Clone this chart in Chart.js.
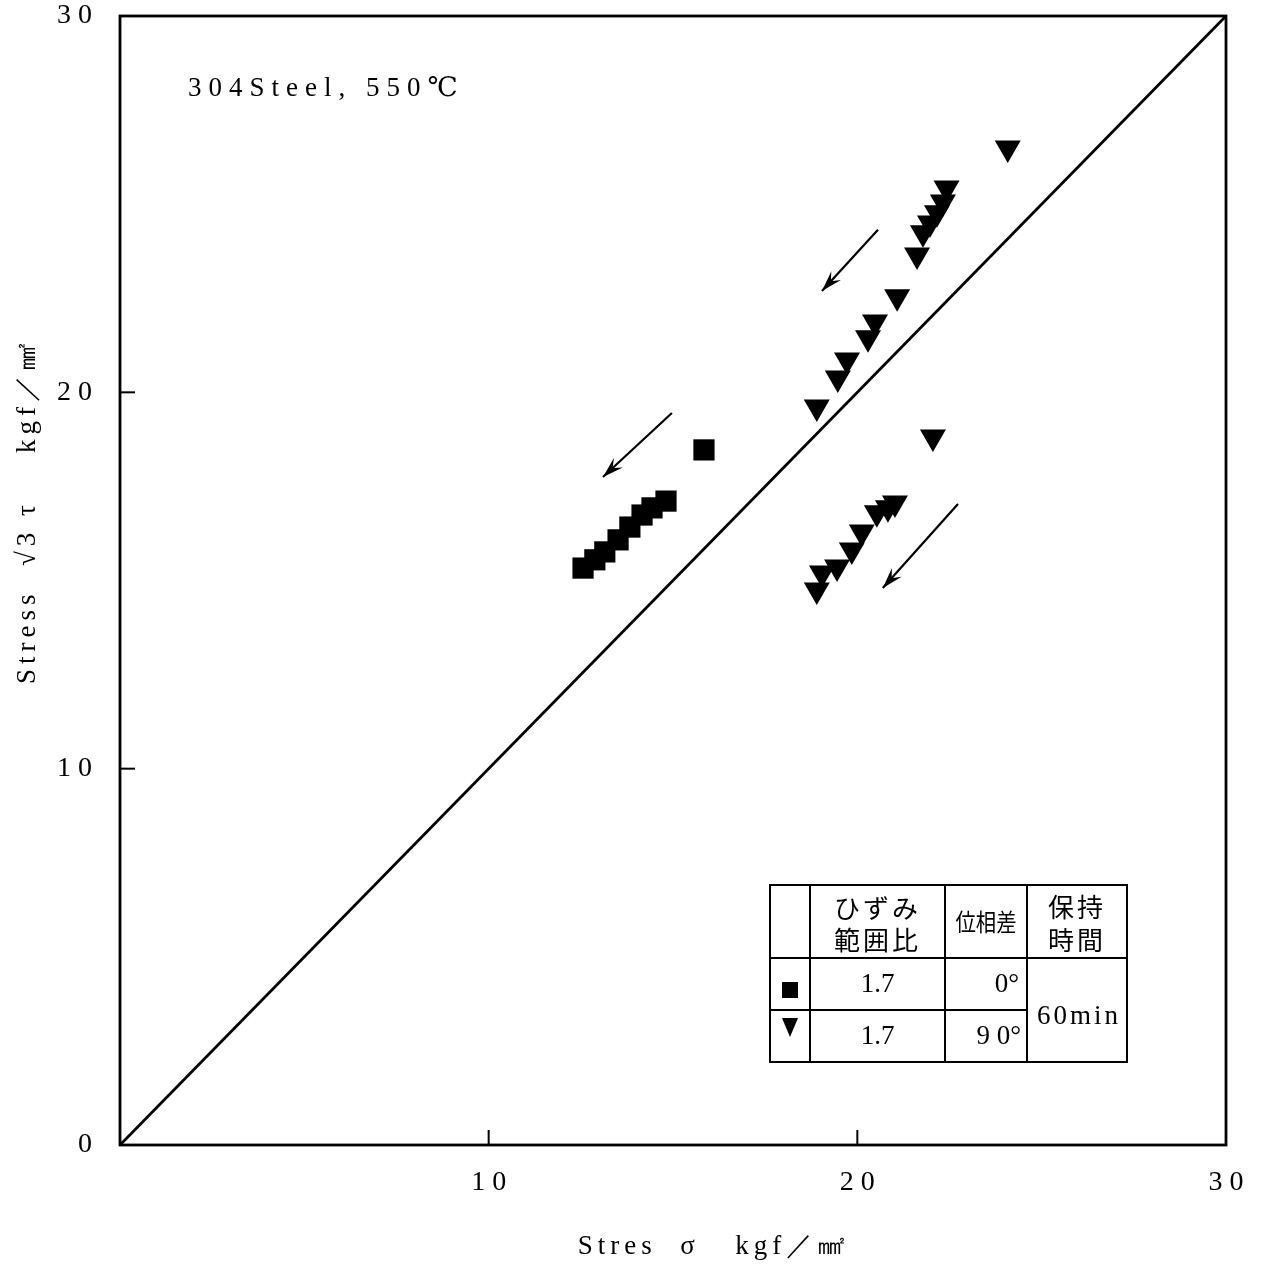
<!DOCTYPE html>
<html>
<head>
<meta charset="utf-8">
<script src="https://cdn.jsdelivr.net/npm/chart.js@4"></script>
<style>
  html, body { margin: 0; padding: 0; background: #fff; }
  #wrap { width: 1265px; height: 1266px; }
</style>
</head>
<body>
<div id="wrap"><canvas id="myChart" width="1265" height="1266"></canvas></div>
<script>
// values (kgf/mm2)
var squareX = [15.84, 14.81, 14.43, 14.16, 13.83, 13.51, 13.15, 12.88, 12.56];
var squareY = [18.47, 17.11, 16.93, 16.74, 16.42, 16.08, 15.76, 15.55, 15.33];

var triX = [24.08, 22.42, 22.32, 22.16, 21.97, 21.78, 21.62, 21.08, 20.48, 20.29, 19.72, 19.47, 18.90,
            22.05, 21.02, 20.83, 20.53, 20.12, 19.85, 19.45, 19.04, 18.90];
var triY = [26.49, 25.43, 25.06, 24.77, 24.50, 24.24, 23.65, 22.54, 21.87, 21.45, 20.86, 20.38, 19.61,
            18.81, 17.06, 16.93, 16.80, 16.29, 15.81, 15.36, 15.20, 14.75];

var diagX = [0, 30];
var diagY = [0, 30];

// arrows: start -> end
var arrowFromX = [14.97, 20.56, 22.73];
var arrowFromY = [19.45, 24.32, 17.03];
var arrowToX = [13.10, 19.04, 20.69];
var arrowToY = [17.75, 22.69, 14.80];

var xTicks = [10, 20, 30];
var yTicks = [0, 10, 20, 30];

var noteText = "304Steel, 550℃";
var xTitle = "Stres  σ   kgf／㎟";
var yTitle = "Stress  √3 τ    kgf／㎟";

var tableHead = [["ひずみ", "範囲比"], ["位相差"], ["保持", "時間"]];
var tableRatio = ["1.7", "1.7"];
var tablePhase = ["0°", "9 0°"];
var tableHold = "60min";

function spaced(v) {
  return String(v).split("").join(" ");
}

function pts(xs, ys) {
  return xs.map(function (x, i) { return { x: x, y: ys[i] }; });
}

var serif = "'Liberation Serif', 'DejaVu Serif', serif";
var cjk = "'Noto Sans CJK JP', sans-serif";

var decorPlugin = {
  id: "decor",
  afterDatasetsDraw: function (chart) {
    var ctx = chart.ctx;
    var xs = chart.scales.x;
    var ys = chart.scales.y;
    var a = chart.chartArea;
    ctx.save();

    // frame
    ctx.strokeStyle = "#000";
    ctx.lineWidth = 2.8;
    ctx.strokeRect(a.left, a.top, a.right - a.left, a.bottom - a.top);

    // inward ticks
    ctx.lineWidth = 2;
    xTicks.forEach(function (v) {
      var px = xs.getPixelForValue(v);
      ctx.beginPath();
      ctx.moveTo(px, a.bottom);
      ctx.lineTo(px, a.bottom - 15);
      ctx.stroke();
    });
    yTicks.forEach(function (v) {
      var py = ys.getPixelForValue(v);
      ctx.beginPath();
      ctx.moveTo(a.left, py);
      ctx.lineTo(a.left + 15, py);
      ctx.stroke();
    });

    // arrows
    ctx.lineWidth = 2.2;
    arrowFromX.forEach(function (x0, i) {
      var p0x = xs.getPixelForValue(x0), p0y = ys.getPixelForValue(arrowFromY[i]);
      var p1x = xs.getPixelForValue(arrowToX[i]), p1y = ys.getPixelForValue(arrowToY[i]);
      ctx.beginPath();
      ctx.moveTo(p0x, p0y);
      ctx.lineTo(p1x, p1y);
      ctx.stroke();
      var ang = Math.atan2(p1y - p0y, p1x - p0x);
      var len = 22;
      ctx.beginPath();
      ctx.moveTo(p1x, p1y);
      ctx.lineTo(p1x - len * Math.cos(ang - 0.3), p1y - len * Math.sin(ang - 0.3));
      ctx.lineTo(p1x - len * 0.6 * Math.cos(ang), p1y - len * 0.6 * Math.sin(ang));
      ctx.lineTo(p1x - len * Math.cos(ang + 0.3), p1y - len * Math.sin(ang + 0.3));
      ctx.closePath();
      ctx.fillStyle = "#000";
      ctx.fill();
    });

    // note
    ctx.fillStyle = "#000";
    ctx.font = "27px " + serif;
    ctx.letterSpacing = "7px";
    ctx.textAlign = "left";
    ctx.textBaseline = "middle";
    ctx.fillText(noteText, a.left + 68, a.top + 73);

    // axis titles
    ctx.font = "27px " + serif;
    ctx.letterSpacing = "5px";
    ctx.textAlign = "center";
    ctx.fillText(xTitle, a.left + 594, a.bottom + 102);
    ctx.save();
    ctx.translate(28, a.top + 495);
    ctx.rotate(-Math.PI / 2);
    ctx.fillText(yTitle, 0, 0);
    ctx.restore();
    ctx.letterSpacing = "0px";

    // legend table
    var L = a.right - 456, T = a.bottom - 260;
    var cols = [0, 40, 175, 257, 357];
    var rows = [0, 73, 125, 177];
    ctx.lineWidth = 2;
    ctx.strokeRect(L, T, cols[4], rows[3]);
    ctx.beginPath();
    for (var c = 1; c < 4; c++) {
      ctx.moveTo(L + cols[c], T);
      ctx.lineTo(L + cols[c], T + rows[3]);
    }
    ctx.moveTo(L, T + rows[1]);
    ctx.lineTo(L + cols[4], T + rows[1]);
    ctx.moveTo(L, T + rows[2]);
    ctx.lineTo(L + cols[3], T + rows[2]);
    ctx.stroke();

    ctx.textAlign = "center";
    ctx.font = "26px " + cjk;
    ctx.letterSpacing = "3px";
    ctx.fillText(tableHead[0][0], L + (cols[1] + cols[2]) / 2, T + 23);
    ctx.fillText(tableHead[0][1], L + (cols[1] + cols[2]) / 2, T + 55);
    ctx.fillText(tableHead[2][0], L + (cols[3] + cols[4]) / 2, T + 22);
    ctx.fillText(tableHead[2][1], L + (cols[3] + cols[4]) / 2, T + 55);
    ctx.letterSpacing = "0px";
    ctx.save();
    ctx.font = "24px " + cjk;
    ctx.translate(L + (cols[2] + cols[3]) / 2, T + 37);
    ctx.scale(0.85, 1);
    ctx.fillText(tableHead[1][0], 0, 0);
    ctx.restore();

    ctx.font = "27px " + serif;
    ctx.fillText(tableRatio[0], L + (cols[1] + cols[2]) / 2, T + 100);
    ctx.fillText(tableRatio[1], L + (cols[1] + cols[2]) / 2, T + 152);
    ctx.textAlign = "right";
    ctx.fillText(tablePhase[0], L + cols[3] - 8, T + 100);
    ctx.fillText(tablePhase[1], L + cols[3] - 6, T + 152);
    ctx.textAlign = "center";
    ctx.letterSpacing = "3px";
    ctx.fillText(tableHold, L + (cols[3] + cols[4]) / 2 + 2, T + 132);
    ctx.letterSpacing = "0px";

    // legend markers
    var mx = L + cols[1] / 2;
    ctx.fillRect(mx - 8, T + 97, 16, 16);
    ctx.beginPath();
    ctx.moveTo(mx - 8, T + 133);
    ctx.lineTo(mx + 8, T + 133);
    ctx.lineTo(mx, T + 152);
    ctx.closePath();
    ctx.fill();

    ctx.restore();
  }
};

var ctx = document.getElementById("myChart").getContext("2d");
var myChart = new Chart(ctx, {
  type: "scatter",
  data: {
    datasets: [
      {
        type: "line",
        data: pts(diagX, diagY),
        borderColor: "#000",
        borderWidth: 2.8,
        pointRadius: 0,
        fill: false,
      },
      {
        data: pts(squareX, squareY),
        pointStyle: "rect",
        pointRadius: 15,
        backgroundColor: "#000",
        borderColor: "#000",
        borderWidth: 0,
      },
      {
        data: pts(triX, triY),
        pointStyle: "triangle",
        pointRotation: 180,
        pointRadius: 15,
        backgroundColor: "#000",
        borderColor: "#000",
        borderWidth: 0,
      },
    ],
  },
  options: {
    responsive: false,
    animation: false,
    layout: { padding: { top: 16, right: 39, left: 0, bottom: 0 } },
    plugins: {
      legend: { display: false },
      tooltip: { enabled: false },
    },
    scales: {
      x: {
        type: "linear",
        min: 0,
        max: 30,
        afterBuildTicks: function (scale) {
          scale.ticks = xTicks.map(function (v) { return { value: v }; });
        },
        afterFit: function (scale) {
          scale.height = 121;
          scale.paddingLeft = 0;
          scale.paddingRight = 0;
        },
        grid: { display: false },
        border: { display: false },
        ticks: {
          padding: 13,
          color: "#000",
          font: { family: serif, size: 28 },
          callback: function (v) { return spaced(v); },
        },
      },
      y: {
        type: "linear",
        min: 0,
        max: 30,
        afterBuildTicks: function (scale) {
          scale.ticks = yTicks.map(function (v) { return { value: v }; });
        },
        afterFit: function (scale) {
          scale.width = 120;
          scale.paddingTop = 0;
          scale.paddingBottom = 0;
        },
        grid: { display: false },
        border: { display: false },
        ticks: {
          padding: 20,
          color: "#000",
          font: { family: serif, size: 28 },
          callback: function (v) { return spaced(v); },
        },
      },
    },
  },
  plugins: [decorPlugin],
});
</script>
</body>
</html>
